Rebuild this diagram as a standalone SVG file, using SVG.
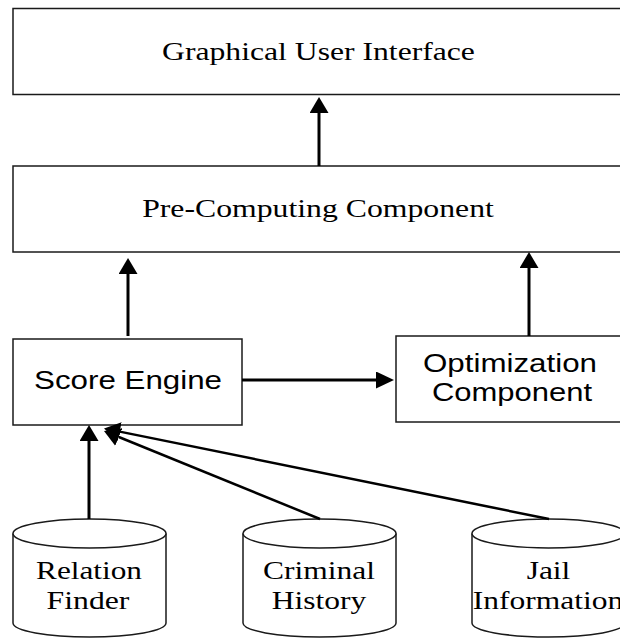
<svg xmlns="http://www.w3.org/2000/svg" width="620" height="638" viewBox="0 0 620 638">
  <style>
    .box { fill: #ffffff; stroke: #1a1a1a; stroke-width: 1.5; }
    .db { fill: #ffffff; stroke: #1a1a1a; stroke-width: 1.5; }
    .serif { font-family: "Liberation Serif", "Times New Roman", serif; font-size: 25px; fill: #000; text-anchor: middle; }
    .sans { font-family: "Liberation Sans", Arial, sans-serif; font-size: 25px; fill: #000; text-anchor: middle; }
    .link { fill: none; stroke: #000; stroke-width: 3; }
    .link-thin { fill: none; stroke: #000; stroke-width: 2.5; }
  </style>
  <defs>
    <marker id="head" markerUnits="userSpaceOnUse" markerWidth="16" markerHeight="19" refX="0" refY="9.5" orient="auto">
      <path d="M0,0 L16,9.5 L0,19 Z" fill="#000"/>
    </marker>
    <marker id="head-h" markerUnits="userSpaceOnUse" markerWidth="18" markerHeight="17" refX="0" refY="8.5" orient="auto">
      <path d="M0,0 L18,8.5 L0,17 Z" fill="#000"/>
    </marker>
  </defs>

  <!-- labels are set at 25px and widened horizontally -->
  <g id="gui">
    <rect class="box" x="13" y="8.5" width="620" height="86"/>
    <text class="serif" transform="translate(318.5,60) scale(1.267,1)">Graphical User Interface</text>
  </g>

  <g id="precomputing">
    <rect class="box" x="13" y="166" width="620" height="86"/>
    <text class="serif" transform="translate(318,217) scale(1.27,1)">Pre-Computing Component</text>
  </g>

  <g id="score-engine">
    <rect class="box" x="13" y="339" width="229" height="86"/>
    <text class="sans" transform="translate(128,389) scale(1.253,1)">Score Engine</text>
  </g>

  <g id="optimization">
    <rect class="box" x="396" y="336" width="240" height="86"/>
    <text class="sans" transform="translate(510,372) scale(1.253,1)">Optimization</text>
    <text class="sans" transform="translate(512,401) scale(1.24,1)">Component</text>
  </g>

  <g id="relation-finder">
    <path class="db" d="M13,533.5 V623 A76.5,14 0 0,0 166,623 V533.5"/>
    <ellipse class="db" cx="89.5" cy="533.5" rx="76.5" ry="14.5"/>
    <text class="serif" transform="translate(89,579) scale(1.25,1)">Relation</text>
    <text class="serif" transform="translate(88,609) scale(1.27,1)">Finder</text>
  </g>

  <g id="criminal-history">
    <path class="db" d="M243,533.5 V623 A76.5,14 0 0,0 396,623 V533.5"/>
    <ellipse class="db" cx="319.5" cy="533.5" rx="76.5" ry="14.5"/>
    <text class="serif" transform="translate(319,579) scale(1.26,1)">Criminal</text>
    <text class="serif" transform="translate(319,609) scale(1.26,1)">History</text>
  </g>

  <g id="jail-information">
    <path class="db" d="M472,533.5 V623 A76.5,14 0 0,0 625,623 V533.5"/>
    <ellipse class="db" cx="548.5" cy="533.5" rx="76.5" ry="14.5"/>
    <text class="serif" transform="translate(548.5,579) scale(1.26,1)">Jail</text>
    <text class="serif" transform="translate(548,609) scale(1.26,1)">Information</text>
  </g>

  <g id="connectors">
    <!-- pre-computing to GUI -->
    <line class="link" x1="319" y1="166" x2="319" y2="113" marker-end="url(#head)"/>
    <!-- score engine to pre-computing -->
    <line class="link" x1="128" y1="336" x2="128" y2="274" marker-end="url(#head)"/>
    <!-- optimization to pre-computing -->
    <line class="link" x1="529" y1="336" x2="529" y2="268" marker-end="url(#head)"/>
    <!-- score engine to optimization -->
    <line class="link" x1="242" y1="380" x2="376" y2="380" marker-end="url(#head-h)"/>
    <!-- data sources to score engine -->
    <line class="link" x1="89" y1="519" x2="89" y2="441" marker-end="url(#head)"/>
    <line class="link-thin" x1="320" y1="519" x2="118.8" y2="437" marker-end="url(#head)"/>
    <line class="link-thin" x1="549" y1="519" x2="119.7" y2="431.6" marker-end="url(#head)"/>
  </g>
</svg>
